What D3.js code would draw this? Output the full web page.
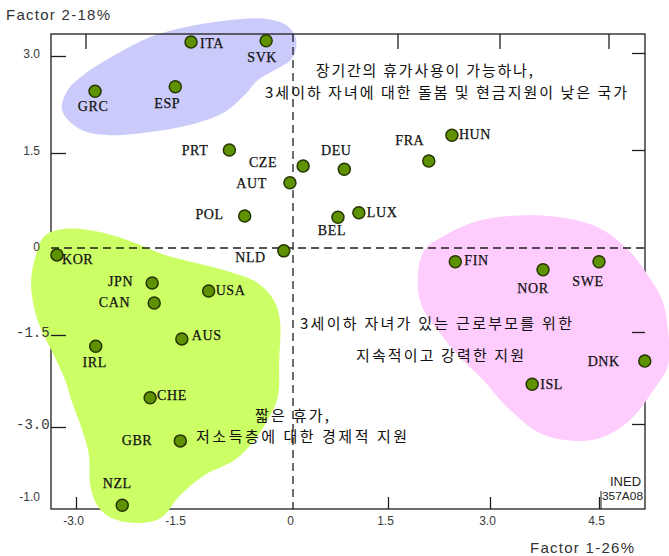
<!DOCTYPE html>
<html>
<head>
<meta charset="utf-8">
<script src="https://cdn.jsdelivr.net/npm/d3@7"></script>
<style>
  html, body { margin: 0; padding: 0; background: #ffffff; }
  svg { display: block; }
</style>
</head>
<body>
<svg id="chart" width="669" height="556"></svg>
<script>
// ---- Data: factor scores per country (Factor 1 = x, Factor 2 = y) ----
const countries = ["ITA","SVK","GRC","ESP","PRT","CZE","AUT","POL","NLD","KOR",
                   "DEU","BEL","LUX","FRA","HUN","FIN","NOR","SWE","DNK","ISL",
                   "JPN","CAN","USA","AUS","IRL","CHE","GBR","NZL"];
const factor1 = [-1.33,-0.35,-2.72,-1.54,-0.83, 0.16,-0.04,-0.63,-0.12,-3.28,
                  0.81, 0.71, 1.04, 2.10, 2.44, 2.49, 3.73, 4.50, 5.13, 3.58,
                 -1.88,-1.85,-1.10,-1.45,-2.71,-1.91,-1.47,-2.32];
const factor2 = [ 3.20, 3.22, 2.44, 2.51, 1.53, 1.28, 1.02, 0.50,-0.05,-0.12,
                  1.23, 0.48, 0.55, 1.36, 1.76,-0.24,-0.38,-0.24,-1.94,-2.32,
                 -0.61,-0.96,-0.75,-1.58,-1.70,-2.54,-3.31,-4.65];

// Axis ticks
const xTicks = [-3, -1.5, 0, 1.5, 3, 4.5];
const xTickLabels = ["-3.0", "-1.5", "0", "1.5", "3.0", "4.5"];
const yTicks = [3, 1.5, 0, -1.5, -3, -4.5];
const yTickLabels = ["3.0", "1.5", "0", "-1.5", "-3.0", "-1.0"];

// Cluster outlines (in factor units)
const clusterSouth = [[-3.21,2.18],[-3.12,2.46],[-2.87,2.71],[-2.43,3.00],[-1.91,3.28],[-1.41,3.43],
  [-0.89,3.53],[-0.37,3.56],[-0.07,3.45],[0.05,3.23],[-0.01,2.95],[-0.23,2.77],[-0.46,2.61],
  [-0.63,2.38],[-0.89,2.12],[-1.34,1.92],[-1.91,1.81],[-2.50,1.76],[-2.87,1.82],[-3.12,2.00]];
const clusterLiberal = [[-3.60,-0.17],[-3.46,0.19],[-3.16,0.30],[-2.65,0.25],[-2.13,0.08],[-1.69,-0.12],
  [-1.21,-0.28],[-0.82,-0.42],[-0.46,-0.61],[-0.25,-0.91],[-0.17,-1.26],[-0.18,-1.92],[-0.20,-2.54],
  [-0.33,-2.90],[-0.50,-3.29],[-0.76,-3.71],[-1.15,-4.02],[-1.47,-4.44],[-1.76,-4.92],[-2.13,-5.02],
  [-2.50,-4.90],[-2.69,-4.65],[-2.79,-4.23],[-2.81,-3.60],[-2.91,-3.08],[-3.06,-2.61],[-3.16,-2.25],
  [-3.35,-1.79],[-3.53,-1.38],[-3.63,-0.96],[-3.66,-0.56]];
const clusterNordic = [[1.94,-0.47],[2.04,-0.03],[2.34,0.20],[2.78,0.41],[3.28,0.50],[3.96,0.48],
  [4.51,0.31],[4.90,-0.03],[5.17,-0.47],[5.37,-0.91],[5.45,-1.43],[5.45,-2.01],[5.23,-2.45],
  [4.93,-2.90],[4.56,-3.23],[4.20,-3.31],[3.69,-3.15],[3.21,-2.66],[2.90,-2.25],[2.59,-1.92],
  [2.26,-1.48],[1.99,-0.99]];

// Cluster captions: text with its left/baseline anchor in factor units
const captionText = [
  "장기간의 휴가사용이 가능하나,",
  "3세이하 자녀에 대한 돌봄 및 현금지원이 낮은 국가",
  "3세이하 자녀가 있는 근로부모를 위한",
  "지속적이고 강력한 지원",
  "짧은 휴가,",
  "저소득층에 대한  경제적 지원"
];
const captionX = [0.36, -0.365, 0.11, 0.995, -0.496, -1.265];
const captionY = [2.68, 2.335, -1.41, -1.94, -2.92, -3.33];

// ---- Layout ----
const box = { left: 51, top: 34, right: 645, bottom: 509 };
const captionWidth = [217, 362, 272, 168, 74, 211];

// label placement around each dot: [anchor, dx, dy]
const labelPlace = {
  ITA:["start",9,6], SVK:["middle",-4,21], GRC:["middle",-2,20], ESP:["middle",-8,21],
  PRT:["end",-21,5], CZE:["end",-26,1], AUT:["end",-23,5], POL:["end",-21,3],
  NLD:["end",-18,11], KOR:["start",5,9], DEU:["middle",-8,-14], BEL:["middle",-6,18],
  LUX:["start",8,4], FRA:["middle",-19,-16], HUN:["start",7,4], FIN:["start",9,3],
  NOR:["middle",-10,23], SWE:["middle",-11,24], DNK:["end",-25,5], ISL:["start",8,5],
  JPN:["end",-19,3], CAN:["end",-24,4], USA:["start",7,4], AUS:["start",10,1],
  IRL:["middle",-1,21], CHE:["start",7,2], GBR:["end",-28,4], NZL:["middle",-5,-17]
};

const ink = "#1e1e1e";
const sans = "'Liberation Sans', Arial, sans-serif";
const serif = "'Liberation Serif', 'Times New Roman', serif";
const mono = "'Liberation Mono', 'Courier New', monospace";
const kr = "'Noto Sans CJK KR', sans-serif";

// Hand-drawn grid: tick spacing is not uniform, so use piecewise linear scales
const x = d3.scaleLinear().domain(xTicks).range([76, 178, 293, 388, 490, 599]);
const y = d3.scaleLinear().domain(yTicks).range([55, 152, 248, 334, 426, 498]);

const svg = d3.select("#chart");

const blob = d3.line()
  .x(d => x(d[0])).y(d => y(d[1]))
  .curve(d3.curveCatmullRomClosed.alpha(0.5));

// Southern-European cluster sits under the frame
svg.append("path").attr("d", blob(clusterSouth)).attr("fill", "#cbcbfb");

// Frame
svg.append("rect")
  .attr("x", box.left).attr("y", box.top)
  .attr("width", box.right - box.left).attr("height", box.bottom - box.top)
  .attr("fill", "none").attr("stroke", ink).attr("stroke-width", 1.3);

// Liberal and Nordic clusters cover the frame edges
svg.append("path").attr("d", blob(clusterLiberal)).attr("fill", "#ccff66");
svg.append("path").attr("d", blob(clusterNordic)).attr("fill", "#ffccfe");

// Tick marks (inward), no labels
function tickStyle(g) {
  g.select(".domain").remove();
  g.selectAll("line").attr("stroke", ink).attr("stroke-width", 1.3);
}
svg.append("g").attr("transform", `translate(${box.left},1)`)
  .call(d3.axisLeft(y).tickValues([3, 1.5, -1.5, -3]).tickSize(-15).tickFormat(""))
  .call(tickStyle);
svg.append("g").attr("transform", `translate(${box.right},-2)`)
  .call(d3.axisRight(y).tickValues([3, 1.5, -1.5, -3]).tickSize(-13).tickFormat(""))
  .call(tickStyle);
svg.append("g").attr("transform", `translate(9.5,${box.top})`)
  .call(d3.axisTop(x).tickValues([-3, 1.5, 3, 4.5]).tickSize(-15).tickFormat(""))
  .call(tickStyle);
svg.append("g").attr("transform", `translate(0,${box.bottom})`)
  .call(d3.axisBottom(x).tickValues([-3, 1.5, 3, 4.5]).tickSize(-12).tickFormat(""))
  .call(tickStyle);

// Tick labels
const yLab = svg.append("g").attr("transform", `translate(${box.left},-1.5)`)
  .call(d3.axisLeft(y).tickValues(yTicks).tickSize(0).tickPadding(11)
    .tickFormat((d, i) => yTickLabels[i]));
yLab.select(".domain").remove();
yLab.selectAll("text")
  .attr("font-family", sans).attr("font-size", 12).attr("fill", "#3a3a3a");
yLab.selectAll("text").filter(d => d === -1.5 || d === -3)
  .attr("text-anchor", "start").attr("x", -35)
  .attr("font-family", mono).attr("font-size", 14);

const xLab = svg.append("g").attr("transform", `translate(-3,${box.bottom})`)
  .call(d3.axisBottom(x).tickValues(xTicks).tickSize(0).tickPadding(7.5)
    .tickFormat((d, i) => xTickLabels[i]));
xLab.select(".domain").remove();
xLab.selectAll("text")
  .attr("font-family", sans).attr("font-size", 12).attr("fill", "#3a3a3a");

// Origin cross (dashed)
svg.append("line")
  .attr("x1", box.left).attr("x2", box.right).attr("y1", y(0)).attr("y2", y(0))
  .attr("stroke", ink).attr("stroke-width", 1.3).attr("stroke-dasharray", "8,5");
svg.append("line")
  .attr("x1", x(0)).attr("x2", x(0)).attr("y1", box.top).attr("y2", box.bottom)
  .attr("stroke", ink).attr("stroke-width", 1.3).attr("stroke-dasharray", "8,5");

// Cluster captions
svg.append("g").selectAll("text")
  .data(captionText)
  .join("text")
  .attr("x", (d, i) => x(captionX[i]))
  .attr("y", (d, i) => y(captionY[i]))
  .attr("font-family", kr).attr("font-size", 15).attr("fill", "#111")
  .attr("textLength", (d, i) => captionWidth[i]).attr("lengthAdjust", "spacing")
  .text(d => d);

// Country points
const pts = countries.map((c, i) => ({ code: c, f1: factor1[i], f2: factor2[i] }));
svg.append("g").selectAll("circle")
  .data(pts)
  .join("circle")
  .attr("cx", d => x(d.f1)).attr("cy", d => y(d.f2))
  .attr("r", 6)
  .attr("fill", "#5e9200").attr("stroke", "#263500").attr("stroke-width", 1.5);

// Country labels
svg.append("g").selectAll("text")
  .data(pts)
  .join("text")
  .attr("x", d => x(d.f1) + labelPlace[d.code][1])
  .attr("y", d => y(d.f2) + labelPlace[d.code][2])
  .attr("text-anchor", d => labelPlace[d.code][0])
  .attr("font-family", serif).attr("font-size", 14).attr("letter-spacing", 0.6)
  .attr("fill", "#111").attr("stroke", "#111").attr("stroke-width", 0.25)
  .text(d => d.code);

// Axis titles
svg.append("text").attr("x", 6).attr("y", 20)
  .attr("font-family", sans).attr("font-size", 15).attr("fill", "#333")
  .attr("textLength", 104).attr("lengthAdjust", "spacing")
  .text("Factor 2-18%");
svg.append("text").attr("x", 530).attr("y", 553)
  .attr("font-family", sans).attr("font-size", 15).attr("fill", "#333")
  .attr("textLength", 104).attr("lengthAdjust", "spacing")
  .text("Factor 1-26%");

// Source stamp in the lower-right corner
svg.append("text").attr("x", box.right - 4).attr("y", box.bottom - 23)
  .attr("text-anchor", "end")
  .attr("font-family", sans).attr("font-size", 12).attr("fill", "#222")
  .attr("textLength", 31).attr("lengthAdjust", "spacingAndGlyphs")
  .text("INED");
svg.append("line")
  .attr("x1", box.right - 44).attr("x2", box.right - 44)
  .attr("y1", box.bottom - 18).attr("y2", box.bottom)
  .attr("stroke", ink).attr("stroke-width", 1);
svg.append("text").attr("x", box.right - 43).attr("y", box.bottom - 9)
  .attr("font-family", sans).attr("font-size", 11).attr("fill", "#222")
  .attr("textLength", 41).attr("lengthAdjust", "spacingAndGlyphs")
  .text("357A08");
</script>
</body>
</html>
